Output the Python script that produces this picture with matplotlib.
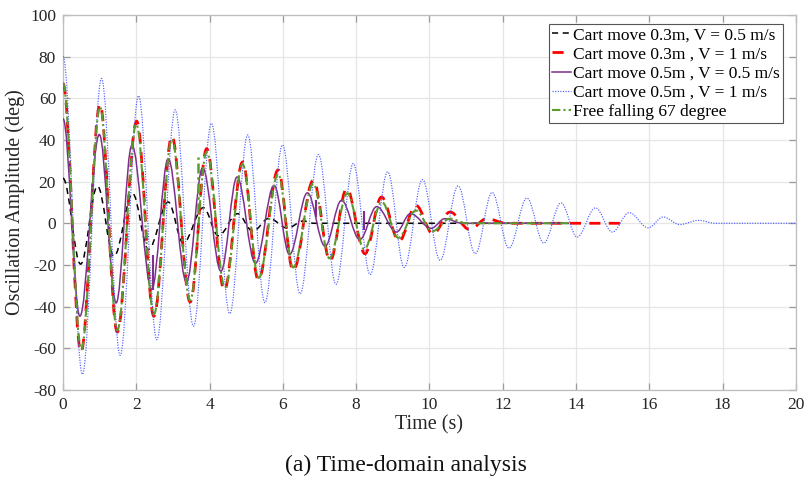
import matplotlib
matplotlib.use("Agg")
import matplotlib.pyplot as plt
from matplotlib.path import Path
from matplotlib.patches import PathPatch
from matplotlib.lines import Line2D

plt.rcParams['font.family'] = ['Liberation Serif', 'DejaVu Serif']
plt.rcParams['axes.unicode_minus'] = False

# ---- data: extrema (time s, amplitude deg) ----
black_t = [0, 0.48, 0.94, 1.39, 1.90, 2.33, 2.87, 3.28, 3.83, 4.24, 4.76, 5.18, 5.62, 6.12, 6.56, 6.85]
black_y = [21.6, -19.6, 17.8, -15.8, 14.2, -12.6, 10.2, -9.4, 7.5, -6.0, 4.6, -3.8, 2.4, -2.3, 1.1, 0]
black_end = 13.8

red_t = [0, 0.49, 1.01, 1.48, 2.01, 2.48, 2.97, 3.47, 3.92, 4.40, 4.90, 5.33, 5.87, 6.28, 6.83,
         7.29, 7.74, 8.24, 8.69, 9.17, 9.63, 10.10, 10.56, 11.10, 11.56, 12.10]
red_y = [67, -61.8, 57.1, -52.2, 49.0, -44.6, 41.8, -37.8, 35.8, -32.2, 29.4, -27.2, 25.6, -22.8, 20.6,
         -17.9, 16.6, -14.6, 12.6, -8.6, 8.6, -5.2, 5.4, -3.0, 2.2, 0]
red_end = 15.2

purple_t = [0, 0.46, 0.99, 1.45, 1.88, 2.42, 2.87, 3.37, 3.81, 4.31, 4.75, 5.25, 5.76, 6.18, 6.67,
            7.15, 7.60, 8.10, 8.56, 9.10, 9.48, 10.05, 10.42, 10.90]
purple_y = [50.2, -44.6, 42.6, -38.2, 37.4, -31.8, 31.0, -28.2, 26.6, -23.0, 22.2, -19.2, 18.2, -15.0, 14.6,
            -11.0, 11.0, -7.8, 8.0, -4.2, 4.6, -2.4, 2.2, 0]
purple_end = 13.8

blue_t = [0, 0.53, 1.05, 1.56, 2.06, 2.56, 3.06, 3.56, 4.05, 4.55, 5.04, 5.51, 5.99, 6.47, 6.97,
          7.45, 7.92, 8.38, 8.86, 9.31, 9.81, 10.29, 10.78, 11.25, 11.71, 12.17, 12.66, 13.12, 13.59,
          14.03, 14.53, 14.99, 15.45, 15.97, 16.38, 16.83, 17.34, 17.80]
blue_y = [80, -72.5, 69.5, -63.4, 61.2, -55.9, 54.4, -49.4, 48.0, -43.4, 42.4, -38.1, 37.6, -33.8, 33.0,
          -29.3, 28.7, -24.6, 24.7, -21.2, 21.0, -17.8, 18.0, -14.6, 14.8, -12.0, 12.1, -9.5, 9.8,
          -6.6, 7.4, -4.2, 5.1, -2.2, 3.0, -0.6, 1.4, 0]
blue_end = 20.0

green_t = [0, 0.50, 1.01, 1.48, 2.00, 2.48, 2.97, 3.47, 3.92, 4.42, 4.90, 5.34, 5.87, 6.28, 6.83,
           7.27, 7.76, 8.22, 8.70, 9.15, 9.63, 10.08, 10.56, 11.00]
green_y = [67, -60.5, 55.8, -51.3, 47.6, -43.7, 40.2, -37.0, 34.2, -30.8, 28.3, -26.2, 23.6, -21.2, 19.0,
           -16.8, 14.4, -12.4, 10.2, -7.0, 6.1, -3.8, 2.2, 0]
green_end = 13.8

# short vertical glitches visible in the reference (time, from, to)
purple_glitch_t = [2.45, 6.90, 8.22]
purple_glitch_lo = [-32, 3, -3]
purple_glitch_hi = [-15, 11, 6]
green_glitch_t = [3.69]
green_glitch_lo = [5]
green_glitch_hi = [32]

labels = ['Cart move 0.3m, V = 0.5 m/s',
          'Cart move 0.3m , V = 1 m/s',
          'Cart move 0.5m , V = 0.5 m/s',
          'Cart move 0.5m , V = 1 m/s',
          'Free falling 67 degree']

xticks = list(range(0, 21, 2))
yticks = list(range(-80, 101, 20))

K = 0.363  # bezier handle fraction approximating a half cosine between extrema


def osc_path(ts, ys, t_end):
    verts = [(ts[0], ys[0])]
    codes = [Path.MOVETO]
    for i in range(len(ts) - 1):
        t0, t1, y0, y1 = ts[i], ts[i + 1], ys[i], ys[i + 1]
        d = t1 - t0
        verts += [(t0 + K * d, y0), (t1 - K * d, y1), (t1, y1)]
        codes += [Path.CURVE4] * 3
    if t_end > ts[-1]:
        verts.append((t_end, ys[-1]))
        codes.append(Path.LINETO)
    return Path(verts, codes)


fig = plt.figure(figsize=(8.08, 4.82), dpi=100)
ax = fig.add_axes([0.078, 0.191, 0.907, 0.778])

styles = [
    dict(color='#000000', lw=1.1, ls=(0, (4, 3))),
    dict(color='#ff0000', lw=2.0, ls=(0, (4, 3))),
    dict(color='#7e2f8e', lw=1.1, ls='-'),
    dict(color='#4e5dff', lw=0.85, ls=(0, (1, 1.2))),
    dict(color='#5b9a2e', lw=1.5, ls=(0, (4, 1.5, 1, 1.5))),
]
series = [(black_t, black_y, black_end), (red_t, red_y, red_end),
          (purple_t, purple_y, purple_end), (blue_t, blue_y, blue_end),
          (green_t, green_y, green_end)]

handles = []
for (ts, ys, te), st, lab in zip(series, styles, labels):
    p = PathPatch(osc_path(ts, ys, te), facecolor='none', edgecolor=st['color'],
                  lw=st['lw'], linestyle=st['ls'], zorder=3)
    ax.add_patch(p)
    handles.append(Line2D([], [], color=st['color'], lw=st['lw'], linestyle=st['ls']))

ax.vlines(purple_glitch_t, purple_glitch_lo, purple_glitch_hi, color='#7e2f8e', lw=1.5, zorder=3)
ax.vlines(green_glitch_t, green_glitch_lo, green_glitch_hi, color='#5b9a2e', lw=1.8,
          linestyle=(0, (4, 1.5, 1, 1.5)), zorder=3)

ax.set_xlim(0, 20)
ax.set_ylim(-80, 100)
ax.set_xticks(xticks)
ax.set_yticks(yticks)
ax.grid(True, color='#e6e6e6', lw=0.9)
ax.set_axisbelow(True)
for s in ax.spines.values():
    s.set_color('#bdbdbd')
    s.set_linewidth(0.9)
ax.tick_params(direction='in', length=5, width=0.9, color='#9a9a9a',
               top=True, right=True, labelsize=12.5, labelcolor='#262626', pad=5)
ax.set_xlabel('Time (s)', fontsize=14.5, color='#262626', labelpad=2)
ax.set_ylabel('Oscillation Amplitude (deg)', fontsize=14.5, color='#262626', labelpad=4)

leg = ax.legend(handles, labels, loc='upper right', bbox_to_anchor=(0.982, 0.976),
                borderaxespad=0, fontsize=12.5, handlelength=1.1, handletextpad=0.1,
                labelspacing=0.18, borderpad=0.18, fancybox=False, framealpha=1,
                edgecolor='#555555')
leg.get_frame().set_linewidth(0.8)

fig.text(0.503, 0.035, '(a) Time-domain analysis', ha='center', va='center',
         fontsize=17, color='#111111')

fig.savefig('out.png', dpi=100)
